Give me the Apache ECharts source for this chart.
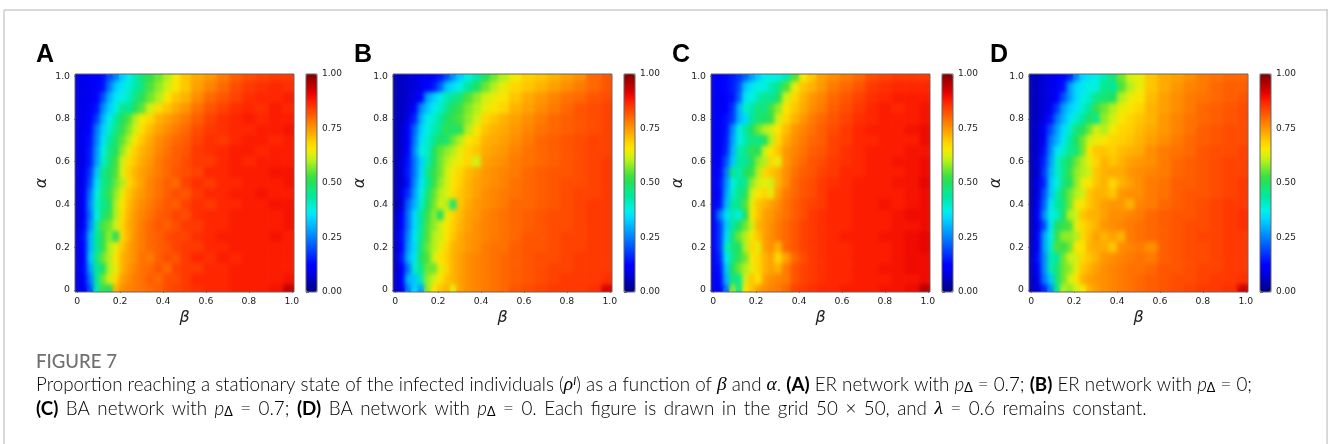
<!DOCTYPE html>
<html>
<head>
<meta charset="utf-8">
<script src="https://cdn.jsdelivr.net/npm/echarts@6/dist/echarts.min.js"></script>
<style>
html,body{margin:0;padding:0;background:#fff}
#c{position:absolute;left:0;top:0;width:1328px;height:444px;filter:blur(0.35px)}
.soft{position:absolute;top:75px;width:218px;height:216px;-webkit-backdrop-filter:blur(2.2px);backdrop-filter:blur(2.2px)}
</style>
</head>
<body>
<div id="c"></div>
<script>
// beta (columns) and alpha (rows, top to bottom) at which values were read
const betas = [0,.03,.06,.09,.12,.15,.18,.21,.24,.27,.30,.34,.38,.42,.46,.50,.56,.62,.68,.74,.80,.86,.92,1.0];
const alphas = [1,.95,.9,.85,.8,.75,.7,.65,.6,.55,.5,.45,.4,.35,.3,.25,.2,.15,.1,.05,0];
const panelLetters = ['A','B','C','D'];
const axisTicks = [0,.2,.4,.6,.8,1];
// proportion infected, in percent
const valuesA = [
[9,10,11,12,14,20,25,33,37,42,48,52,56,60,65,70,73,75,78,81,83,84,85,85],
[9,10,10,12,14,24,33,36,39,43,47,54,58,62,66,70,74,77,80,83,85,86,87,86],
[9,10,10,12,20,30,36,38,41,47,51,56,60,66,70,72,76,80,82,84,86,87,87,88],
[9,10,11,14,26,33,38,46,44,50,55,62,67,70,73,75,79,82,84,86,87,86,88,87],
[9,10,12,18,30,37,44,50,54,60,65,68,72,74,76,78,81,84,86,87,88,87,88,88],
[9,10,13,24,33,40,47,52,57,62,67,71,74,76,78,80,83,85,86,87,87,88,88,89],
[9,11,14,25,35,44,49,55,60,66,70,73,76,78,80,81,84,86,85,87,88,88,87,88],
[9,10,15,27,38,47,50,58,64,69,72,74,77,79,81,82,85,86,87,88,88,87,88,88],
[8,10,15,28,40,48,53,62,67,70,73,75,78,80,81,83,85,85,87,88,87,88,88,88],
[9,11,18,32,46,50,54,63,69,72,74,76,78,80,82,83,84,87,87,88,88,88,89,89],
[8,11,20,35,46,49,56,60,68,71,74,77,79,81,80,84,86,85,87,87,88,88,88,89],
[8,12,24,38,47,52,58,64,70,73,75,77,79,81,83,82,85,87,87,88,88,89,88,88],
[8,12,26,40,46,50,60,66,71,74,76,78,80,82,81,84,86,85,87,87,88,88,89,89],
[8,11,24,38,48,52,60,67,72,75,77,79,81,82,84,83,86,87,87,88,88,88,88,89],
[8,12,26,42,54,56,62,68,73,75,78,80,82,81,83,85,85,87,87,88,88,88,88,89],
[9,14,30,44,52,58,50,68,72,76,78,80,81,83,84,84,86,87,88,88,88,88,89,88],
[9,13,30,44,52,60,64,70,74,76,78,80,81,82,84,85,85,87,87,88,88,88,88,88],
[9,12,32,46,56,60,66,72,74,76,79,78,81,83,82,85,87,86,88,87,88,88,88,88],
[9,13,28,44,50,60,64,72,75,77,79,80,82,80,84,85,85,87,87,88,88,88,88,88],
[9,11,24,44,56,62,68,74,76,78,79,81,80,83,83,85,87,87,87,88,88,88,88,89],
[9,10,20,42,52,50,72,76,77,78,79,80,81,83,84,85,86,87,87,88,88,88,89,94]];
const valuesB = [
[5,6,7,8,10,11,13,15,20,27,33,38,43,50,56,60,65,69,70,72,74,76,80,82],
[5,6,7,8,10,12,15,22,32,35,38,44,50,56,60,64,68,70,72,74,76,78,80,82],
[5,6,7,9,12,28,33,37,42,45,48,54,58,62,64,66,70,73,75,77,79,80,82,83],
[5,6,8,12,26,32,37,40,46,50,53,57,60,64,66,68,72,74,76,78,80,82,83,84],
[5,6,9,16,30,37,40,44,50,52,54,58,62,68,70,72,74,76,78,80,81,82,83,84],
[5,7,12,22,33,38,42,46,52,48,52,60,66,70,72,73,75,77,79,80,81,82,83,84],
[5,7,12,24,35,40,45,50,48,56,60,66,68,72,73,74,76,78,80,81,82,83,84,84],
[5,7,13,26,38,40,50,55,58,60,64,68,70,73,74,75,77,79,80,81,82,83,84,84],
[5,8,14,24,33,42,50,56,60,63,65,68,62,74,75,76,78,79,80,81,82,83,84,85],
[5,8,15,24,34,46,52,56,62,65,68,71,73,75,76,77,78,80,81,82,82,83,84,85],
[5,7,14,26,36,44,52,58,62,66,69,72,74,75,76,77,79,80,81,82,83,83,84,85],
[5,9,17,28,38,48,55,60,63,67,70,72,74,76,77,78,79,80,81,82,83,84,84,85],
[4,8,22,30,40,50,56,62,60,48,70,73,75,76,77,78,80,80,81,82,83,84,85,85],
[6,12,24,34,44,52,58,50,64,68,71,74,75,77,78,79,80,81,82,83,83,84,85,85],
[6,13,24,34,44,54,58,62,66,69,72,74,76,77,78,79,80,81,82,83,83,84,85,85],
[7,14,26,36,46,54,60,62,66,70,73,75,76,77,78,79,80,82,82,83,84,84,85,85],
[6,13,28,34,48,56,60,64,68,72,73,75,76,78,79,79,81,82,82,83,84,84,85,85],
[6,15,30,36,50,54,62,66,69,72,74,76,77,78,79,80,81,82,83,83,84,85,85,85],
[6,12,24,40,46,56,56,64,68,72,74,76,77,78,79,80,81,82,83,84,84,85,85,85],
[7,12,30,32,42,58,62,66,70,72,74,76,77,78,79,80,81,82,83,84,85,85,85,86],
[7,9,25,34,28,58,66,70,72,64,74,76,77,78,79,80,82,83,84,85,85,85,86,92]];
const valuesC = [
[11,12,13,15,18,22,28,33,37,38,38,42,54,66,70,74,76,78,80,83,84,85,85,85],
[11,12,13,15,20,32,36,38,38,42,46,54,64,70,72,75,78,80,82,85,86,87,87,87],
[10,11,12,14,22,36,38,42,46,44,50,62,68,72,75,77,80,82,84,86,87,88,88,88],
[10,11,12,17,30,40,43,48,46,53,58,66,70,73,76,78,81,83,85,87,88,87,88,89],
[10,12,14,18,30,34,44,48,50,52,62,68,72,75,78,80,82,84,86,87,88,88,88,89],
[10,11,14,26,38,44,50,56,60,62,66,71,75,77,79,81,83,85,87,88,88,88,89,90],
[10,11,15,28,38,42,48,46,50,60,68,73,76,78,80,81,84,85,87,87,88,88,88,90],
[10,11,16,30,42,46,52,50,62,66,70,75,77,79,81,82,84,86,87,88,88,88,89,89],
[9,12,20,32,44,44,50,58,60,68,64,75,78,80,82,83,85,86,87,88,88,89,89,90],
[10,13,24,46,42,50,52,60,68,70,72,76,79,81,82,84,85,87,87,88,88,88,89,90],
[10,14,26,38,44,46,58,62,64,62,72,76,80,82,83,85,86,87,88,88,88,89,89,91],
[9,13,28,40,46,50,62,66,68,64,74,78,80,82,83,85,87,87,88,88,88,88,89,90],
[10,14,30,44,46,54,64,70,72,74,76,79,81,83,84,85,87,87,88,88,89,88,89,90],
[10,24,34,42,38,50,66,70,74,75,77,79,81,83,85,86,87,87,88,88,88,89,90,90],
[11,18,32,44,50,56,62,72,74,76,78,80,82,84,85,86,87,87,88,88,88,89,89,90],
[11,18,34,48,56,60,66,70,74,76,78,80,82,84,85,86,87,88,88,88,89,89,90,91],
[12,18,40,48,50,60,68,64,74,76,72,80,82,84,85,86,87,87,88,88,88,89,90,91],
[11,16,36,46,52,56,66,68,72,74,68,74,80,83,85,86,87,87,88,88,88,89,90,90],
[10,14,32,50,56,60,64,68,72,74,72,78,82,84,85,86,87,87,88,88,89,89,90,90],
[10,13,30,48,46,62,70,66,74,76,77,78,82,84,85,86,87,87,88,88,88,89,89,90],
[10,11,24,58,46,66,70,74,76,77,78,80,84,85,86,87,87,88,88,88,89,89,90,95]];
const valuesD = [
[5,6,8,9,11,13,16,26,34,36,38,42,48,56,62,64,70,73,74,76,78,79,80,80],
[5,6,8,9,11,14,28,34,36,38,38,46,44,54,60,64,70,73,75,77,78,80,81,81],
[5,6,8,9,12,20,28,34,38,40,46,48,50,60,64,66,71,74,76,78,79,80,81,82],
[5,6,8,10,18,28,33,36,40,44,52,56,60,64,66,68,72,74,76,78,80,81,82,83],
[5,6,9,14,24,30,36,40,44,50,46,58,62,66,68,70,72,75,77,79,80,81,82,83],
[5,7,12,20,28,34,40,48,50,56,62,60,65,68,69,71,73,75,77,79,81,82,83,83],
[5,7,11,24,30,36,44,50,56,62,64,66,68,69,70,72,74,76,78,80,81,82,83,83],
[5,7,14,26,36,40,46,48,56,66,70,70,69,71,72,73,76,78,79,80,82,83,83,84],
[5,8,16,28,40,46,50,56,60,64,68,72,70,72,74,75,76,78,80,81,82,83,84,84],
[5,7,18,30,40,46,52,58,60,62,70,72,73,73,75,76,77,78,80,81,82,83,84,84],
[5,9,16,32,38,48,50,58,64,66,70,72,68,72,74,76,78,79,81,81,82,83,84,85],
[5,8,20,32,42,50,56,60,62,70,72,72,70,75,76,76,78,79,81,82,82,83,84,85],
[5,10,22,36,44,48,56,64,66,70,72,74,75,75,72,77,78,80,81,82,83,84,85,85],
[5,12,26,38,40,50,60,62,70,72,72,74,76,76,77,78,80,81,82,82,83,84,85,86],
[6,9,20,36,50,52,54,64,68,70,72,75,76,77,78,79,80,81,82,83,83,84,85,86],
[5,12,28,38,52,58,58,60,68,71,74,72,74,72,78,79,80,81,82,83,84,84,85,85],
[6,10,28,40,54,52,56,66,66,72,73,73,70,76,77,78,76,81,82,83,83,84,85,85],
[6,14,26,42,44,56,62,62,68,70,72,75,76,77,78,79,78,81,82,83,83,84,85,85],
[6,12,26,42,48,56,58,64,70,72,74,76,77,78,79,79,80,82,82,83,84,84,85,85],
[6,9,24,32,48,56,62,66,72,74,75,76,77,78,79,80,81,82,83,83,84,85,85,86],
[6,8,16,26,46,60,58,62,66,72,74,76,77,78,79,80,81,82,83,84,85,85,86,93]];
const panels = [valuesA,valuesB,valuesC,valuesD];
const jet = ['#000080','#0000a4','#0000c8','#0000ec','#0000ff','#0020ff','#0040ff','#0060ff','#0080ff','#009fff','#00bfff','#00dcff','#00f0e8','#00eec4','#00e8a0','#10e880','#20e060','#40e040','#70e830','#a8f020','#d8f010','#fae800','#ffd200','#ffb400','#ff9700','#ff7a00','#ff5c00','#ff3f00','#ff2100','#ec0400','#c80000','#a40000','#800000'];

const plotLeft = [75,393,711,1029], plotTop = 74, plotW = 219, plotH = 218, barGap = 12, barW = 11;
const lo = -0.0102, hi = 1.0102;
const edges = (v) => {
  const s = v[0] < v[v.length-1] ? 1 : -1;
  const e = [s>0?lo:hi];
  for (let i=0;i<v.length-1;i++) e.push((v[i]+v[i+1])/2);
  e.push(s>0?hi:lo);
  return e;
};
const xe = edges(betas), ye = edges(alphas);
const spine = '#666', txt = '#222', tickFont = 'DejaVu Sans';
const options = {animation:false,backgroundColor:'#fff',grid:[],xAxis:[],yAxis:[],series:[],visualMap:[],graphic:[]};
const frame = '#cccccc';
options.graphic.push(
  {type:'line',shape:{x1:4,y1:10,x2:1328,y2:10},style:{stroke:frame,lineWidth:1.5}},
  {type:'line',shape:{x1:4,y1:10,x2:4,y2:444},style:{stroke:frame,lineWidth:1.5}},
  {type:'line',shape:{x1:1327,y1:10,x2:1327,y2:444},style:{stroke:frame,lineWidth:1.5}}
);
panels.forEach((vals,p)=>{
  const left = plotLeft[p];
  const data = [];
  vals.forEach((row,r)=>row.forEach((v,c)=>data.push([c,r,v/100])));
  options.grid.push({left,top:plotTop,width:plotW,height:plotH,show:true,borderColor:spine,borderWidth:1,backgroundColor:'transparent',z:5});
  const axLabel = {fontFamily:tickFont,fontSize:9.3,color:txt,margin:5,customValues:axisTicks,formatter:v=>v===0?'0':v.toFixed(1)};
  const axTick = {show:true,length:3,lineStyle:{color:spine,width:1},customValues:axisTicks};
  const nameStyle = {fontFamily:tickFont,fontStyle:'italic',fontSize:16,color:'#222'};
  options.xAxis.push({type:'value',gridIndex:options.grid.length-1,min:lo,max:hi,splitLine:{show:false},axisLine:{show:false},axisTick:axTick,axisLabel:axLabel,
    name:'β',nameLocation:'middle',nameGap:18,nameTextStyle:nameStyle});
  options.yAxis.push({type:'value',gridIndex:options.grid.length-1,min:lo,max:hi,splitLine:{show:false},axisLine:{show:false},axisTick:axTick,axisLabel:axLabel,
    name:'α',nameLocation:'middle',nameGap:25,nameRotate:90,nameTextStyle:nameStyle});
  const si = options.series.length;
  options.series.push({type:'custom',xAxisIndex:options.grid.length-1,yAxisIndex:options.grid.length-1,data,encode:{x:0,y:1},silent:true,clip:true,
    renderItem:(params,api)=>{
      const c=api.value(0), r=api.value(1);
      const a=api.coord([xe[c],ye[r]]), b=api.coord([xe[c+1],ye[r+1]]);
      return {type:'rect',shape:{x:a[0],y:a[1],width:b[0]-a[0]+0.6,height:b[1]-a[1]+0.6},style:{fill:api.visual('color')}};
    }});
  options.visualMap.push({type:'continuous',seriesIndex:si,dimension:2,min:0,max:1,calculable:false,realtime:false,hoverLink:false,
    left:left+plotW+barGap,top:plotTop,itemWidth:barW,itemHeight:plotH,padding:0,text:null,showLabel:false,inRange:{color:jet},textStyle:{color:'transparent',fontSize:1},z:4});
  options.grid.push({left:left+plotW+barGap,top:plotTop,width:barW,height:plotH,show:true,borderColor:spine,borderWidth:1,backgroundColor:'transparent',z:8});
  const gi = options.grid.length-1;
  options.xAxis.push({type:'value',gridIndex:gi,show:false,min:0,max:1});
  options.yAxis.push({type:'value',gridIndex:gi,position:'right',min:0,max:1,interval:.25,splitLine:{show:false},axisLine:{show:false},
    axisTick:{show:true,length:3,lineStyle:{color:spine,width:1}},
    axisLabel:{fontFamily:tickFont,fontSize:9,color:txt,margin:5,formatter:v=>v.toFixed(2)}});
  options.series.push({type:'scatter',xAxisIndex:gi,yAxisIndex:gi,data:[],silent:true});
  options.graphic.push({type:'text',left:left-39,top:43,style:{text:panelLetters[p],font:'bold 25px "Liberation Sans"',fill:'#000'}});
});
const capFont = 'Lato', capSize = 18.8, capColor = '#7a7a7a';
const capRich = {
  n:{fontFamily:capFont,fontSize:capSize,fontWeight:300,color:capColor},
  w:{fontFamily:capFont,fontSize:capSize,fontWeight:300,color:capColor,padding:[0,2.4,0,0]},
  b:{fontFamily:capFont,fontSize:capSize,fontWeight:700,color:'#666'},
  i:{fontFamily:'Liberation Serif',fontStyle:'italic',fontSize:capSize+0.6,color:capColor},
  p:{fontFamily:capFont,fontStyle:'italic',fontWeight:300,fontSize:capSize,color:capColor},
  s:{fontFamily:capFont,fontSize:12.5,color:capColor,padding:[7,0,0,0]},
  u:{fontFamily:capFont,fontStyle:'italic',fontSize:11,color:capColor,padding:[0,0,7,0]}
};
const wide = s => s.replace(/\{n\|([^}]*)\}/g,(m,t)=>t.split(' ').map((w,i,a)=>i<a.length-1?`{w|${w} }`:(w?`{n|${w}}`:'')).join(''));
const capLine1 = '{n|Proportion reaching a stationary state of the infected individuals (}{i|ρ}{u|I}{n|) as a function of }{i|β}{n| and }{i|α}{n|. }{b|(A)}{n| ER network with }{p|p}{s|Δ}{n| = 0.7; }{b|(B)}{n| ER network with }{p|p}{s|Δ}{n| = 0;}';
const capLine2 = wide('{b|(C)}{n| BA network with }{p|p}{s|Δ}{n| = 0.7; }{b|(D)}{n| BA network with }{p|p}{s|Δ}{n| = 0. Each figure is drawn in the grid 50 × 50, and }{i|λ}{n| = 0.6 remains constant.}');
options.graphic.push(
  {type:'text',left:36,top:352,style:{text:'FIGURE 7',font:'500 18.6px Lato',fill:'#707070'}},
  {type:'text',left:36,top:375,style:{text:capLine1,rich:capRich}},
  {type:'text',left:36,top:399,style:{text:capLine2,rich:capRich}}
);
const chart = echarts.init(document.getElementById('c'),null,{renderer:'canvas',width:1328,height:444});
chart.setOption(options);
plotLeft.forEach(l=>{const d=document.createElement('div');d.className='soft';d.style.left=(l+1)+'px';document.body.appendChild(d);});
</script>
</body>
</html>
